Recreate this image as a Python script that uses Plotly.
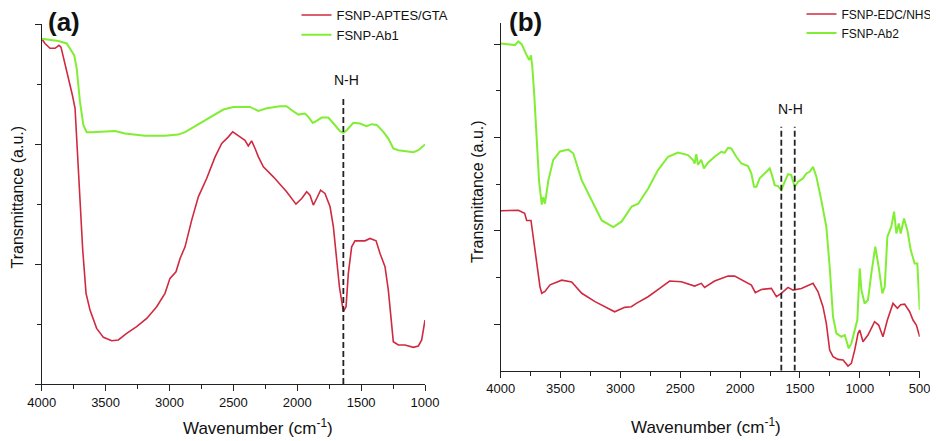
import plotly.graph_objects as go

# ---------------- Panel (a) data ----------------
A_RED_X = [4000, 3974, 3935, 3896, 3883, 3865, 3849, 3831, 3804, 3778, 3760, 3739, 3718, 3700, 3679, 3653,
           3622, 3570, 3517, 3452, 3400, 3335, 3257, 3178, 3100, 3035, 2996, 2949, 2917, 2878, 2826, 2774,
           2709, 2643, 2591, 2539, 2505, 2448, 2409, 2383, 2357, 2330, 2304, 2265, 2187, 2083, 2010, 1965,
           1926, 1900, 1874, 1848, 1817, 1783, 1743, 1717, 1696, 1670, 1639, 1618, 1600, 1574, 1548, 1509,
           1470, 1430, 1383, 1352, 1313, 1287, 1266, 1248, 1209, 1157, 1091, 1052, 1026, 1000]
A_RED_Y = [2.88, 2.84, 2.80, 2.80, 2.81, 2.825, 2.81, 2.73, 2.63, 2.49, 2.41, 2.30, 1.91, 1.53, 1.12, 0.756,
           0.617, 0.464, 0.389, 0.361, 0.367, 0.422, 0.478, 0.547, 0.644, 0.756, 0.881, 0.936, 1.047, 1.144, 1.367, 1.561,
           1.714, 1.894, 2.006, 2.061, 2.103, 2.061, 2.033, 1.986, 2.028, 1.964, 1.894, 1.811, 1.728, 1.603, 1.5, 1.547,
           1.603, 1.575, 1.492, 1.547, 1.617, 1.589, 1.478, 1.311, 1.089, 0.811, 0.603, 0.644, 0.922, 1.144, 1.194, 1.194,
           1.194, 1.214, 1.194, 1.089, 0.978, 0.783, 0.533, 0.353, 0.325, 0.325, 0.306, 0.317, 0.367, 0.533]

A_GRN_X = [4000, 3870, 3804, 3745, 3726, 3700, 3674, 3648, 3609, 3426, 3348, 3191, 3035, 2931, 2878,
           2761, 2657, 2578, 2500, 2396, 2370, 2304, 2239, 2135, 2083, 2043, 1991, 1939, 1913, 1878,
           1848, 1809, 1757, 1704, 1665, 1639, 1613, 1561, 1509, 1457, 1417, 1378, 1326, 1287, 1248, 1209,
           1144, 1091, 1052, 1000]
A_GRN_Y = [2.88, 2.86, 2.84, 2.74, 2.63, 2.35, 2.16, 2.10, 2.10, 2.11, 2.09, 2.07, 2.07, 2.08, 2.10,
           2.172, 2.242, 2.289, 2.311, 2.306, 2.311, 2.278, 2.300, 2.317, 2.317, 2.283, 2.247, 2.256, 2.228, 2.178,
           2.194, 2.222, 2.222, 2.158, 2.108, 2.094, 2.117, 2.178, 2.172, 2.150, 2.167, 2.161, 2.103, 2.047, 1.964, 1.95,
           1.944, 1.933, 1.95, 1.997]

A_NH_X = [1639]
A_NH_Y = [0.0, 2.38]

# ---------------- Panel (b) data ----------------
B_GRN_X = [4000, 3881, 3853, 3825, 3783, 3761, 3747, 3736, 3719, 3699, 3680, 3657, 3644, 3630, 3602, 3561,
           3505, 3435, 3394, 3323, 3240, 3156, 3059, 2989, 2906, 2851, 2795, 2769, 2686, 2602,
           2519, 2436, 2393, 2380, 2366, 2352, 2325, 2302, 2269, 2213, 2157, 2129, 2101, 2074, 2032, 1990,
           1934, 1906, 1884, 1864, 1837, 1795, 1753, 1734, 1711, 1683, 1656, 1628, 1600, 1573, 1544, 1516,
           1475, 1447, 1419, 1391, 1363, 1322, 1280, 1252, 1224, 1196, 1154, 1126, 1093, 1071, 1043, 1021,
           1001, 987, 960, 932, 904, 871, 843, 812, 792, 770, 737, 714, 695, 675, 659, 631, 603, 575, 542,
           520, 500]
B_GRN_Y = [3.507, 3.49, 3.53, 3.50, 3.38, 3.33, 3.38, 3.26, 2.94, 2.47, 2.04, 1.78, 1.86, 1.79, 2.04, 2.26,
           2.35, 2.37, 2.33, 2.04, 1.83, 1.61, 1.54, 1.60, 1.76, 1.79, 1.90, 1.95, 2.15, 2.293,
           2.339, 2.311, 2.257, 2.221, 2.321, 2.207, 2.261, 2.168, 2.229, 2.293, 2.346, 2.336, 2.389, 2.382, 2.293, 2.221,
           2.193, 2.114, 1.971, 1.971, 2.061, 2.114, 2.168, 2.096, 1.989, 1.979, 1.936, 2.025, 2.107, 2.096, 1.971, 2.025,
           2.061, 2.114, 2.132, 2.186, 2.079, 1.829, 1.543, 1.114, 0.579, 0.4, 0.364, 0.382, 0.239, 0.293, 0.436, 0.543,
           1.096, 0.864, 0.721, 0.757, 1.043, 1.329, 1.114, 0.829, 0.9, 1.436, 1.543, 1.704, 1.471, 1.579, 1.471, 1.632, 1.507, 1.293, 1.15,
           1.15, 0.65]

B_RED_X = [4000, 3853, 3800, 3783, 3747, 3728, 3699, 3672, 3657, 3630, 3588, 3490, 3407, 3323, 3212, 3101, 3048,
           2964, 2909, 2867, 2769, 2672, 2589, 2491, 2380, 2324, 2297, 2213, 2101, 2046, 1963, 1906, 1873,
           1823, 1739, 1697, 1656, 1600, 1558, 1488, 1391, 1349, 1308, 1280, 1252, 1224, 1182, 1140, 1099,
           1071, 1043, 1015, 1001, 974, 932, 877, 843, 807, 770, 723, 686, 659, 626, 584, 556, 528, 500]
B_RED_Y = [1.714, 1.72, 1.686, 1.61, 1.61, 1.44, 1.15, 0.90, 0.83, 0.85, 0.92, 0.97, 0.95, 0.83, 0.74, 0.67, 0.632,
           0.679, 0.686, 0.721, 0.793, 0.882, 0.961, 0.954, 0.907, 0.936, 0.893, 0.961, 1.014, 1.014, 0.954, 0.918, 0.836,
           0.871, 0.882, 0.793, 0.829, 0.893, 0.864, 0.882, 0.936, 0.846, 0.686, 0.507, 0.221, 0.15, 0.121, 0.114, 0.05,
           0.079, 0.221, 0.4, 0.436, 0.311, 0.382, 0.525, 0.489, 0.364, 0.543, 0.721, 0.668, 0.707, 0.714, 0.632, 0.543, 0.489, 0.364]

B_NH_X = [1656, 1544]
B_NH_Y = [0.0, 2.614]

X_TICKS_A = [4000, 3500, 3000, 2500, 2000, 1500, 1000]
X_TICKS_B = [4000, 3500, 3000, 2500, 2000, 1500, 1000, 500]

RED = "#CF2A3F"
GREEN = "#80EE33"
INK = "#111111"
FONT = "Arial, Liberation Sans, sans-serif"

# The page body has an 8px margin; size the figure so it fits the 938x441 window exactly.
OFF = 8
W, H = 938 - OFF, 441 - OFF


def px(xv):
    return (xv - OFF) / W


def py(yv):
    return 1 - (yv - OFF) / H


fig = go.Figure()

fig.add_trace(go.Scatter(x=A_RED_X, y=A_RED_Y, mode="lines", name="FSNP-APTES/GTA",
                         line=dict(color=RED, width=1.6), xaxis="x", yaxis="y", legend="legend"))
fig.add_trace(go.Scatter(x=A_GRN_X, y=A_GRN_Y, mode="lines", name="FSNP-Ab1",
                         line=dict(color=GREEN, width=2.0), xaxis="x", yaxis="y", legend="legend"))
for xv in A_NH_X:
    fig.add_trace(go.Scatter(x=[xv, xv], y=A_NH_Y, mode="lines", showlegend=False,
                             line=dict(color="#222222", width=1.8, dash="6px,3px"), xaxis="x", yaxis="y"))

fig.add_trace(go.Scatter(x=B_RED_X, y=B_RED_Y, mode="lines", name="FSNP-EDC/NHS",
                         line=dict(color=RED, width=1.6), xaxis="x2", yaxis="y2", legend="legend2"))
fig.add_trace(go.Scatter(x=B_GRN_X, y=B_GRN_Y, mode="lines", name="FSNP-Ab2",
                         line=dict(color=GREEN, width=2.0), xaxis="x2", yaxis="y2", legend="legend2"))
for xv in B_NH_X:
    fig.add_trace(go.Scatter(x=[xv, xv], y=B_NH_Y, mode="lines", showlegend=False,
                             line=dict(color="#222222", width=1.8, dash="6px,3px"), xaxis="x2", yaxis="y2"))

axis_common = dict(showgrid=False, zeroline=False, showline=True, linecolor="#222222", linewidth=1.2,
                   ticks="outside", tickcolor="#222222", tickwidth=1.2, mirror=False, automargin=False)
minor_common = dict(ticklen=4, ticks="outside", tickcolor="#222222", tickwidth=1.2)

fig.update_layout(
    width=W, height=H, margin=dict(l=0, r=0, t=0, b=0, pad=0, autoexpand=False),
    plot_bgcolor="white", paper_bgcolor="white",
    font=dict(family=FONT, color=INK),
    xaxis=dict(domain=[px(41.7), px(425)], range=[4000, 1000], anchor="y",
               tickvals=X_TICKS_A, ticklen=6, tickfont=dict(size=13, color=INK),
               minor=dict(dtick=250, tick0=0, **minor_common), **axis_common),
    yaxis=dict(domain=[py(384), py(24.3)], range=[0, 3], anchor="x",
               tickvals=[0, 1, 2, 3], ticklen=6, showticklabels=False,
               minor=dict(tickvals=[0.5, 1.5, 2.5], **minor_common), **axis_common),
    xaxis2=dict(domain=[px(500.7), px(919.7)], range=[4000, 500], anchor="y2",
                tickvals=X_TICKS_B, ticklen=6, tickfont=dict(size=13, color=INK),
                minor=dict(dtick=250, tick0=0, **minor_common), **axis_common),
    yaxis2=dict(domain=[py(370.7), py(22.7)], range=[0, 3.73], anchor="x2",
                tickvals=[0.5, 1.5, 2.5, 3.5], ticklen=6, showticklabels=False,
                minor=dict(tickvals=[1, 2, 3], **minor_common), **axis_common),
    legend=dict(x=px(296.5), y=py(0), xanchor="left", yanchor="top",
                bgcolor="rgba(0,0,0,0)", font=dict(size=13, family=FONT, color=INK),
                tracegroupgap=0, itemwidth=30),
    legend2=dict(x=px(801.5), y=py(-0.5), xanchor="left", yanchor="top",
                 bgcolor="rgba(0,0,0,0)", font=dict(size=12, family=FONT, color=INK),
                 tracegroupgap=0, itemwidth=30),
    showlegend=True,
)

annots = [
    dict(text="<b>(a)</b>", x=px(64), y=py(22), size=26),
    dict(text="<b>(b)</b>", x=px(525), y=py(22), size=26),
    dict(text="N-H", x=px(346.7), y=py(80), size=14),
    dict(text="N-H", x=px(790.5), y=py(109), size=14),
    dict(text="Wavenumber (cm<sup>-1</sup>)", x=px(258), y=py(427), size=17),
    dict(text="Wavenumber (cm<sup>-1</sup>)", x=px(706), y=py(426), size=17),
]
for a in annots:
    fig.add_annotation(text=a["text"], x=a["x"], y=a["y"], xref="paper", yref="paper",
                       showarrow=False, xanchor="center", yanchor="middle",
                       font=dict(size=a["size"], family=FONT, color=INK))

for xc, yc in [(17.5, 197), (477, 192)]:
    fig.add_annotation(text="Transmittance (a.u.)", x=px(xc), y=py(yc), xref="paper", yref="paper",
                       showarrow=False, textangle=-90, xanchor="center", yanchor="middle",
                       font=dict(size=16, family=FONT, color=INK))

fig.write_html("out.html")
